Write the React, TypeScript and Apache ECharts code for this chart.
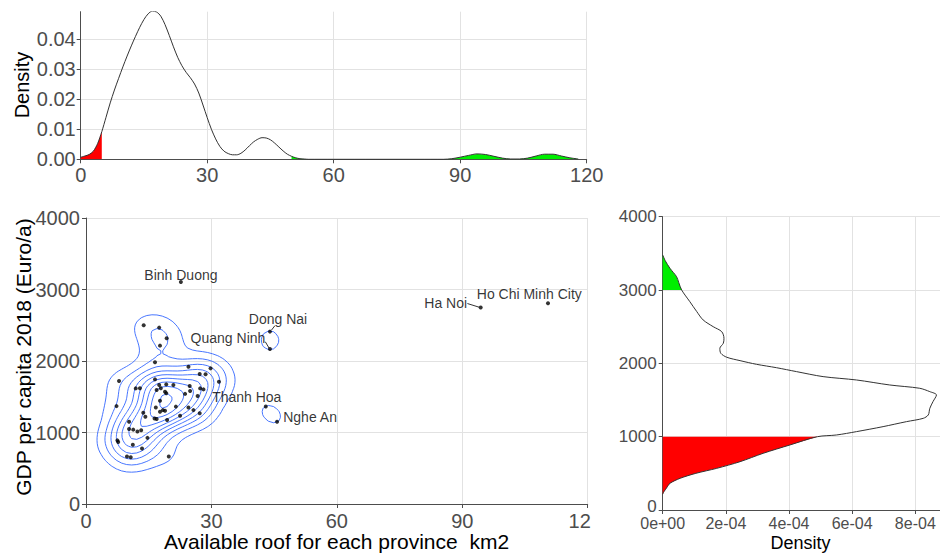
import React, { useEffect, useRef } from "react";
import * as echarts from "echarts";

const FONT = '"Liberation Sans", Arial, Helvetica, sans-serif';

// ---------- scatter data: available roof (km2) vs GDP per capita 2018 (Euro/a) ----------
const clusterRoof = [
  13.8, 17.5, 19.3, 17.7, 16.5, 24.5, 29.8, 27.2, 28.6, 31.8,
  7.9, 16.5, 11.9, 12.9, 17.5, 19.2, 20.9, 16.9, 18.9, 24.8,
  23.7, 24.9, 27.3, 28.1, 26.7, 17.7, 7.3, 16.7, 18.4, 17.7,
  13.7, 21.5, 24.5, 25.7, 27.2, 22.5, 14.2, 16.4, 19.4, 10.3,
  10.3, 11.3, 12.3, 13.2, 14.7, 7.5, 11.2, 13.4, 9.8, 10.7,
  19.8, 17.9, 19.2, 16.9, 7.7, 18.9,
];
const clusterGdp = [
  2500, 2467, 2318, 2215, 1982, 1920, 1897, 1818, 1815, 1710,
  1720, 1743, 1617, 1620, 1663, 1673, 1663, 1593, 1570, 1650,
  1540, 1580, 1617, 1603, 1510, 1444, 1369, 1351, 1313, 1289,
  1277, 1362, 1351, 1313, 1270, 1233, 1219, 1196, 1176, 1149,
  1050, 1040, 1015, 1032, 925, 890, 828, 775, 665, 655,
  665, 1620, 1550, 1188, 868, 1305,
];
const labelledNames = ["Thanh Hoa", "Nghe An", "Dong Nai", "Quang Ninh", "Binh Duong", "Ha Noi", "Ho Chi Minh City"];
const labelledRoof = [43.0, 45.7, 44.0, 44.0, 22.7, 94.4, 110.5];
const labelledGdp = [1365, 1149, 2411, 2168, 3104, 2748, 2809];

// ---------- tick values ----------
const roofTicks = [0, 30, 60, 90, 120];
const gdpTicks = [0, 1000, 2000, 3000, 4000];
const roofDensityTicks = [0, 0.01, 0.02, 0.03, 0.04];
const gdpDensityTicks = [0, 0.0002, 0.0004, 0.0006, 0.0008];

// ---------- marginal density of roof area ----------
const roofDensityX = [
  0, 1, 2, 3, 4, 5, 6, 7, 8, 9, 10, 11, 12, 13, 14, 15, 16, 17, 18, 19,
  20, 21, 22, 23, 24, 25, 26, 27, 28, 29, 30, 31, 32, 33, 34, 35, 36, 37, 38, 39,
  40, 41, 42, 43, 44, 45, 46, 47, 48, 49, 50, 51, 52, 53, 54, 60, 70, 80, 86, 88,
  90, 92, 94, 96, 98, 100, 102, 104, 106, 108, 110, 112, 114, 116, 118,
];
const roofDensity = [
  0.0007, 0.0011, 0.0016, 0.0027, 0.0052, 0.0092, 0.014, 0.0188, 0.0231, 0.027,
  0.0308, 0.0344, 0.0378, 0.041, 0.044, 0.0466, 0.0485, 0.0494, 0.0491, 0.0477,
  0.0449, 0.0413, 0.0375, 0.034, 0.0312, 0.029, 0.0272, 0.0251, 0.0221, 0.0181,
  0.0139, 0.01, 0.0068, 0.0043, 0.0027, 0.0019, 0.0015, 0.0015, 0.002, 0.0031,
  0.0045, 0.0058, 0.0067, 0.0072, 0.0071, 0.0065, 0.0054, 0.0041, 0.0028, 0.0017,
  0.001, 0.0005, 0.0002, 0.0001, 0, 0, 0, 0, 0, 0.0002,
  0.0007, 0.0013, 0.0018, 0.0016, 0.001, 0.0004, 0.0001, 0.0001, 0.0004, 0.0011,
  0.0017, 0.0017, 0.0011, 0.0005, 0.0001,
];

// ---------- marginal density of GDP per capita ----------
const gdpDensityY = [
  215, 250, 300, 364, 432, 500, 568, 659, 773, 887,
  1000, 1023, 1069, 1137, 1205, 1250, 1296, 1387, 1478, 1569,
  1614, 1660, 1705, 1773, 1819, 1887, 1941, 1987, 2037, 2083,
  2137, 2205, 2274, 2342, 2432, 2500, 2592, 2705, 2841, 3000,
  3100, 3182, 3296, 3400, 3478,
];
const gdpDensity = [
  0, 0.000004, 0.000012, 0.000023, 0.000055, 0.000105, 0.000171, 0.000245, 0.000318, 0.000403,
  0.00049, 0.00055, 0.000614, 0.000698, 0.000772, 0.000825, 0.000841, 0.000846, 0.000856, 0.000867,
  0.000846, 0.000814, 0.000719, 0.000614, 0.000508, 0.000424, 0.00036, 0.000297, 0.000245, 0.000203,
  0.000184, 0.000181, 0.000192, 0.000194, 0.000187, 0.00016, 0.000128, 0.000108, 0.000086, 0.00006,
  0.000051, 0.000044, 0.000023, 0.000008, 0,
];

const ROOF_LOW = 5;
const ROOF_HIGH = 50;
const GDP_LOW = 1000;
const GDP_HIGH = 3000;

// label placement (pixel offsets from the point), kept apart from the data
const labelLayout: Record<string, { offset: [number, number]; segment?: [number, number, number, number] }> = {
  "Binh Duong": { offset: [0, -7] },
  "Dong Nai": { offset: [8, -13], segment: [1.5, -1.5, 5, -6] },
  "Quang Ninh": { offset: [-42, -11], segment: [-4.7, -7.3, -0.8, -0.8] },
  "Thanh Hoa": { offset: [-19, -9] },
  "Nghe An": { offset: [33, -5] },
  "Ha Noi": { offset: [-35, -4.5], segment: [-13.3, -4, -1.5, -0.3] },
  "Ho Chi Minh City": { offset: [-18.7, -9] },
};

// ---------- 2-D kernel density (as MASS::kde2d with bandwidth.nrd) ----------
function quantile7(s: number[], p: number) {
  const h = (s.length - 1) * p;
  const lo = Math.floor(h);
  const hi = Math.ceil(h);
  return s[lo] + (h - lo) * (s[hi] - s[lo]);
}
function bandwidthNrd(v: number[]) {
  const n = v.length;
  const mean = v.reduce((a, b) => a + b, 0) / n;
  const sd = Math.sqrt(v.reduce((a, b) => a + (b - mean) * (b - mean), 0) / (n - 1));
  const s = [...v].sort((a, b) => a - b);
  const iqr = quantile7(s, 0.75) - quantile7(s, 0.25);
  return 4 * 1.06 * Math.min(sd, iqr / 1.34) * Math.pow(n, -0.2);
}
function kde2d(xs: number[], ys: number[], lims: number[], N: number) {
  const hx = bandwidthNrd(xs) / 4;
  const hy = bandwidthNrd(ys) / 4;
  const gx: number[] = [];
  const gy: number[] = [];
  for (let i = 0; i < N; i++) {
    gx.push(lims[0] + (i * (lims[1] - lims[0])) / (N - 1));
    gy.push(lims[2] + (i * (lims[3] - lims[2])) / (N - 1));
  }
  const n = xs.length;
  const norm = 1 / (n * 2 * Math.PI * hx * hy);
  const z = gx.map((x0) =>
    gy.map((y0) => {
      let s = 0;
      for (let k = 0; k < n; k++) {
        const u = (x0 - xs[k]) / hx;
        const w = (y0 - ys[k]) / hy;
        s += Math.exp(-0.5 * (u * u + w * w));
      }
      return s * norm;
    })
  );
  return { gx, gy, z };
}
function rPretty(lo: number, hi: number, ndiv: number) {
  const h = 1.5;
  const h5 = 0.5 + 1.5 * h;
  const cell = (hi - lo) / ndiv;
  const base = Math.pow(10, Math.floor(Math.log10(cell)));
  let unit = base;
  if (2 * base - cell < h * (cell - unit)) {
    unit = 2 * base;
    if (5 * base - cell < h5 * (cell - unit)) {
      unit = 5 * base;
      if (10 * base - cell < h * (cell - unit)) unit = 10 * base;
    }
  }
  const ns = Math.floor(lo / unit + 1e-7);
  const nu = Math.ceil(hi / unit - 1e-7);
  const out: number[] = [];
  for (let i = ns; i <= nu; i++) out.push(i * unit);
  return out;
}
function isolines(gx: number[], gy: number[], z: number[][], L: number) {
  const pts = new Map<string, number[]>();
  const adj = new Map<string, string[]>();
  const add = (k1: string, k2: string) => {
    if (!adj.has(k1)) adj.set(k1, []);
    if (!adj.has(k2)) adj.set(k2, []);
    adj.get(k1)!.push(k2);
    adj.get(k2)!.push(k1);
  };
  const hPt = (i: number, j: number) => {
    const key = `h${i}_${j}`;
    if (!pts.has(key)) {
      const a = z[i][j];
      const b = z[i + 1][j];
      const t = (L - a) / (b - a);
      pts.set(key, [gx[i] + t * (gx[i + 1] - gx[i]), gy[j]]);
    }
    return key;
  };
  const vPt = (i: number, j: number) => {
    const key = `v${i}_${j}`;
    if (!pts.has(key)) {
      const a = z[i][j];
      const d = z[i][j + 1];
      const t = (L - a) / (d - a);
      pts.set(key, [gx[i], gy[j] + t * (gy[j + 1] - gy[j])]);
    }
    return key;
  };
  for (let i = 0; i < gx.length - 1; i++) {
    for (let j = 0; j < gy.length - 1; j++) {
      const a = z[i][j];
      const b = z[i + 1][j];
      const c = z[i + 1][j + 1];
      const d = z[i][j + 1];
      const idx = (a > L ? 1 : 0) | (b > L ? 2 : 0) | (c > L ? 4 : 0) | (d > L ? 8 : 0);
      if (idx === 0 || idx === 15) continue;
      const B = () => hPt(i, j);
      const R = () => vPt(i + 1, j);
      const T = () => hPt(i, j + 1);
      const Lf = () => vPt(i, j);
      const ctr = (a + b + c + d) / 4;
      switch (idx) {
        case 1: case 14: add(Lf(), B()); break;
        case 2: case 13: add(B(), R()); break;
        case 3: case 12: add(Lf(), R()); break;
        case 4: case 11: add(R(), T()); break;
        case 6: case 9: add(B(), T()); break;
        case 7: case 8: add(Lf(), T()); break;
        case 5:
          if (ctr > L) { add(B(), R()); add(Lf(), T()); } else { add(Lf(), B()); add(R(), T()); }
          break;
        case 10:
          if (ctr > L) { add(Lf(), B()); add(R(), T()); } else { add(B(), R()); add(Lf(), T()); }
          break;
      }
    }
  }
  const visited = new Set<string>();
  const lines: number[][][] = [];
  const walk = (start: string) => {
    const line = [pts.get(start)!];
    visited.add(start);
    let cur = start;
    for (;;) {
      const nb = adj.get(cur)!.filter((k) => !visited.has(k));
      if (!nb.length) {
        if (adj.get(cur)!.includes(start) && line.length > 2) line.push(pts.get(start)!);
        break;
      }
      cur = nb[0];
      visited.add(cur);
      line.push(pts.get(cur)!);
    }
    return line;
  };
  adj.forEach((v, k) => { if (v.length === 1 && !visited.has(k)) lines.push(walk(k)); });
  adj.forEach((_v, k) => { if (!visited.has(k)) lines.push(walk(k)); });
  return lines;
}

const allRoof = [...clusterRoof, ...labelledRoof];
const allGdp = [...clusterGdp, ...labelledGdp];
const kde = kde2d(allRoof, allGdp, [0, 120, 0, 4000], 100);
let zMin = Infinity;
let zMax = -Infinity;
kde.z.forEach((row) => row.forEach((v) => { if (v < zMin) zMin = v; if (v > zMax) zMax = v; }));
const contourLevels = rPretty(zMin, zMax, 10).filter((l) => l > zMin && l < zMax);
const contourLines = contourLevels.flatMap((l) => isolines(kde.gx, kde.gy, kde.z, l));

// ---------- helpers ----------
const sci = (v: number) => {
  if (v === 0) return "0e+00";
  const e = Math.floor(Math.log10(Math.abs(v)) + 1e-9);
  const m = Math.round(v / Math.pow(10, e));
  return `${m}e${e < 0 ? "-" : "+"}${String(Math.abs(e)).padStart(2, "0")}`;
};

function axis(gridIndex: number, fontSize: number, extra: any, labelExtra: any = {}, tickExtra: any = {}) {
  return {
    type: "value",
    gridIndex,
    ...extra,
    axisLine: { show: true, onZero: false, lineStyle: { color: "#4d4d4d", width: 1 } },
    axisTick: { show: true, length: 4, lineStyle: { color: "#4d4d4d", width: 1 }, ...tickExtra },
    axisLabel: {
      color: "#4d4d4d",
      fontSize,
      fontFamily: FONT,
      margin: 6,
      showMinLabel: true,
      showMaxLabel: true,
      hideOverlap: false,
      formatter: (v: number) => String(v),
      ...labelExtra,
    },
    splitLine: { show: true, lineStyle: { color: "#e2e2e2", width: 1 } },
  };
}

function polygonSeries(points: number[][], xi: number, yi: number, color: string) {
  return {
    type: "custom",
    xAxisIndex: xi,
    yAxisIndex: yi,
    silent: true,
    clip: true,
    data: [points[0]],
    renderItem: (_p: any, api: any) => ({
      type: "polygon",
      shape: { points: points.map((p) => api.coord(p)) },
      style: { fill: color, stroke: "none" },
    }),
  };
}

export default function App() {
  const ref = useRef<HTMLDivElement>(null);
  useEffect(() => {
    if (!ref.current) return;
    const chart = echarts.init(ref.current, undefined, { renderer: "svg" });

    const roofPairs = roofDensityX.map((x, i) => [x, roofDensity[i]]);
    const gdpPairs = gdpDensityY.map((y, i) => [gdpDensity[i], y]);
    const redTop = [[0, 0], ...roofPairs.filter((p) => p[0] <= ROOF_LOW), [ROOF_LOW, 0]];
    const greenTop = [[ROOF_HIGH, 0], ...roofPairs.filter((p) => p[0] >= ROOF_HIGH), [roofPairs[roofPairs.length - 1][0], 0]];
    const redRight = [[0, gdpPairs[0][1]], ...gdpPairs.filter((p) => p[1] <= GDP_LOW), [0, GDP_LOW]];
    const greenRight = [[0, GDP_HIGH], ...gdpPairs.filter((p) => p[1] >= GDP_HIGH), [0, gdpPairs[gdpPairs.length - 1][1]]];

    const scatterData: any[] = clusterRoof.map((x, i) => [x, clusterGdp[i]]);
    labelledNames.forEach((name, i) => {
      scatterData.push({
        value: [labelledRoof[i], labelledGdp[i]],
        name,
        label: {
          show: true,
          position: "inside",
          offset: labelLayout[name].offset,
          formatter: name,
          color: "#000",
          fontSize: 14,
          fontFamily: FONT,
          align: "center",
          verticalAlign: "middle",
          textBorderWidth: 0,
        },
      });
    });
    const segIdx = labelledNames.map((n, i) => (labelLayout[n].segment ? i : -1)).filter((i) => i >= 0);

    const option: any = {
      animation: false,
      backgroundColor: "#ffffff",
      textStyle: { fontFamily: FONT },
      grid: [
        { left: 80.7, top: 11.7, width: 506, height: 147.6, outerBoundsMode: "none" },
        { left: 86, top: 218, width: 501.7, height: 286, outerBoundsMode: "none" },
        { left: 662.7, top: 216.7, width: 277.3, height: 293.3, outerBoundsMode: "none" },
      ],
      xAxis: [
        axis(0, 20, { min: roofTicks[0], max: roofTicks[roofTicks.length - 1], interval: 30 }),
        axis(1, 20, { min: roofTicks[0], max: roofTicks[roofTicks.length - 1], interval: 30 }, {
          margin: 7,
          formatter: (v: number) => (v === 120 ? "{cut|12}" : String(v)),
          rich: { cut: { fontSize: 20, color: "#4d4d4d", fontFamily: FONT, padding: [0, 16, 0, 0] } },
        }),
        axis(2, 16, { min: 0, max: 0.0008782 }, { margin: 5, customValues: gdpDensityTicks, formatter: sci }, { customValues: gdpDensityTicks }),
      ],
      yAxis: [
        axis(0, 20, { min: 0, max: 0.0492 }, { margin: 5, customValues: roofDensityTicks, formatter: (v: number) => v.toFixed(2) }, { customValues: roofDensityTicks }),
        axis(1, 20, { min: gdpTicks[0], max: gdpTicks[gdpTicks.length - 1], interval: 1000 }),
        axis(2, 17, { min: gdpTicks[0], max: gdpTicks[gdpTicks.length - 1], interval: 1000 }, {
          formatter: (v: number) => (v === 0 ? "{lift|0}" : String(v)),
          rich: { lift: { fontSize: 17, color: "#4d4d4d", fontFamily: FONT, lineHeight: 14, padding: [0, 0, 8, 0] } },
        }),
      ],
      series: [
        polygonSeries(redTop, 0, 0, "#ff0000"),
        polygonSeries(greenTop, 0, 0, "#00ee00"),
        {
          type: "line",
          xAxisIndex: 0,
          yAxisIndex: 0,
          data: roofPairs,
          showSymbol: false,
          symbol: "none",
          smooth: 0.3,
          silent: true,
          lineStyle: { color: "#333333", width: 1 },
        },
        polygonSeries(redRight, 2, 2, "#ff0000"),
        polygonSeries(greenRight, 2, 2, "#00ee00"),
        {
          type: "line",
          xAxisIndex: 2,
          yAxisIndex: 2,
          data: gdpPairs,
          showSymbol: false,
          symbol: "none",
          smooth: 0.3,
          silent: true,
          lineStyle: { color: "#333333", width: 1 },
        },
        {
          type: "custom",
          xAxisIndex: 1,
          yAxisIndex: 1,
          silent: true,
          clip: true,
          data: contourLines.map((line, i) => [line[0][0], line[0][1], i]),
          renderItem: (_p: any, api: any) => {
            const line = contourLines[api.value(2)];
            return {
              type: "polyline",
              shape: { points: line.map((p) => api.coord(p)) },
              style: { stroke: "#3366ff", fill: "none", lineWidth: 0.9 },
            };
          },
        },
        {
          type: "scatter",
          xAxisIndex: 1,
          yAxisIndex: 1,
          symbolSize: 4,
          silent: true,
          itemStyle: { color: "#000000" },
          data: scatterData,
        },
        {
          type: "custom",
          xAxisIndex: 1,
          yAxisIndex: 1,
          silent: true,
          data: segIdx.map((i) => [labelledRoof[i], labelledGdp[i], i]),
          renderItem: (_p: any, api: any) => {
            const c = api.coord([api.value(0), api.value(1)]);
            const s = labelLayout[labelledNames[api.value(2)]].segment!;
            return {
              type: "line",
              shape: { x1: c[0] + s[0], y1: c[1] + s[1], x2: c[0] + s[2], y2: c[1] + s[3] },
              style: { stroke: "#000000", lineWidth: 0.8 },
            };
          },
        },
      ],
      graphic: [
        {
          type: "text", x: 21.7, y: 85, rotation: Math.PI / 2,
          style: { text: "Density", fontSize: 20, fontFamily: FONT, fill: "#000", align: "center", verticalAlign: "middle" },
        },
        {
          type: "text", x: 23, y: 357, rotation: Math.PI / 2,
          style: { text: "GDP per capita 2018 (Euro/a)", fontSize: 21, fontFamily: FONT, fill: "#000", align: "center", verticalAlign: "middle" },
        },
        {
          type: "text", x: 336.5, y: 541.7,
          style: { text: "Available roof for each province  km2", fontSize: 21, fontFamily: FONT, fill: "#000", align: "center", verticalAlign: "middle" },
        },
        {
          type: "text", x: 800.5, y: 542.5,
          style: { text: "Density", fontSize: 18, fontFamily: FONT, fill: "#000", align: "center", verticalAlign: "middle" },
        },
      ],
    };
    chart.setOption(option);
    return () => chart.dispose();
  }, []);
  return (
    <div
      ref={ref}
      style={{ position: "fixed", left: 0, top: 0, width: 940, height: 554, background: "#fff" }}
    />
  );
}
